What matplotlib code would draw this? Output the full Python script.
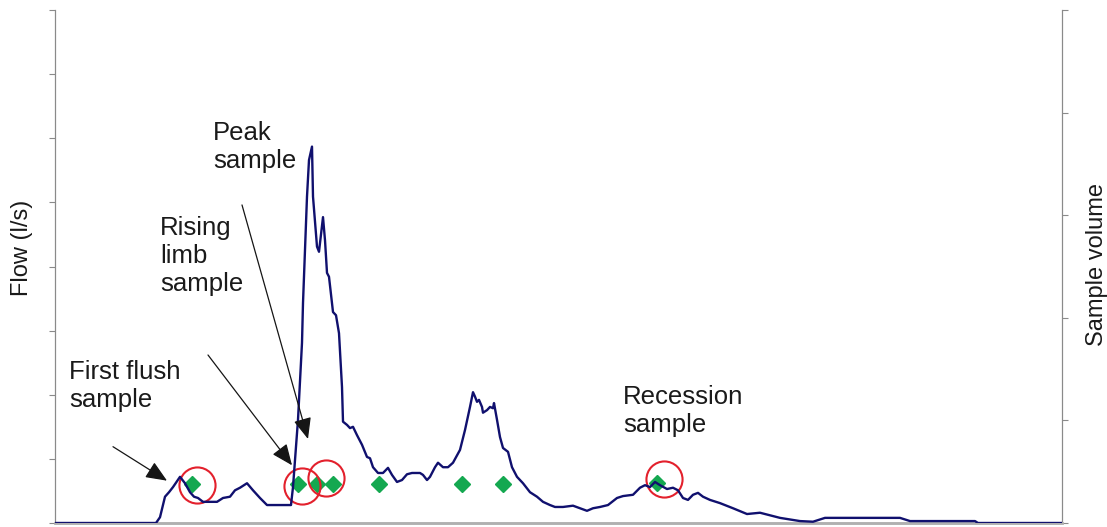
import numpy as np
import matplotlib
matplotlib.use("Agg")
import matplotlib.pyplot as plt

plt.rcParams["font.family"] = ["Liberation Sans", "DejaVu Sans"]

# hydrograph: time (arbitrary units) and flow (l/s, axis units)
time = [0, 101, 105, 110, 114, 118, 125, 130, 135, 139, 143, 148, 162, 168, 175,
        180, 185, 192, 198, 205, 212, 236, 238, 243, 247, 248, 252, 254, 257, 258,
        262, 264, 268, 270, 272, 274, 278, 281, 284, 287, 288, 292, 295, 298, 302,
        307, 312, 315, 318, 323, 328, 333, 337, 342, 347, 352, 357, 365, 368, 372,
        375, 380, 383, 388, 393, 398, 405, 410, 415, 418, 420, 422, 424, 427, 428,
        432, 435, 438, 439, 442, 445, 448, 453, 457, 462, 468, 475, 482, 488, 495,
        500, 508, 518, 525, 532, 538, 545, 553, 562, 568, 578, 585, 590, 595, 600,
        605, 612, 618, 623, 628, 633, 638, 643, 648, 655, 665, 678, 692, 705, 715,
        725, 745, 758, 770, 845, 855, 875, 920, 923, 1007]
flow = [0.00, 0.00, 0.09, 0.41, 0.48, 0.56, 0.72, 0.62, 0.48, 0.41, 0.39, 0.33, 0.33, 0.39, 0.41,
        0.51, 0.55, 0.62, 0.51, 0.39, 0.28, 0.28, 0.56, 1.61, 2.81, 3.43, 5.09, 5.66, 5.87, 5.09,
        4.31, 4.23, 4.77, 4.41, 3.90, 3.84, 3.29, 3.24, 2.96, 2.12, 1.58, 1.53, 1.48, 1.50, 1.37,
        1.22, 1.03, 1.01, 0.87, 0.78, 0.78, 0.86, 0.75, 0.64, 0.67, 0.76, 0.78, 0.78, 0.75, 0.67,
        0.72, 0.87, 0.94, 0.87, 0.87, 0.94, 1.14, 1.45, 1.81, 2.04, 1.97, 1.89, 1.92, 1.81, 1.72,
        1.76, 1.81, 1.79, 1.87, 1.61, 1.34, 1.17, 1.11, 0.87, 0.72, 0.62, 0.48, 0.41, 0.33, 0.28,
        0.25, 0.25, 0.27, 0.23, 0.19, 0.23, 0.25, 0.28, 0.39, 0.42, 0.44, 0.55, 0.59, 0.56, 0.64,
        0.59, 0.53, 0.55, 0.51, 0.39, 0.36, 0.44, 0.47, 0.41, 0.36, 0.31, 0.23, 0.14, 0.16, 0.12,
        0.08, 0.03, 0.02, 0.08, 0.08, 0.03, 0.03, 0.03, 0.00, 0.00]

# samples taken (right axis: sample volume)
sample_time = [137, 243, 262, 278, 324, 407, 448, 602]
sample_vol = [0.38, 0.38, 0.38, 0.38, 0.38, 0.38, 0.38, 0.39]

# highlighted samples
circle_time = [142, 247, 271, 609]
circle_vol = [0.37, 0.36, 0.44, 0.43]

W, H = 1107, 527
fig = plt.figure(figsize=(W / 100, H / 100), dpi=100)
ax = fig.add_axes([55 / W, 4 / H, 1007 / W, 513 / H])
ax2 = ax.twinx()

ax.plot(time, flow, color="#10106e", lw=1.7, zorder=3)
ax.set_xlim(0, 1007)
ax.set_ylim(0, 8)
ax.set_yticks(np.arange(0, 9, 1))
ax.set_yticklabels([])
ax.set_xticks([])

ax2.plot(sample_time, sample_vol, ls="none", marker="D", ms=8, color="#14a850", zorder=2)
ax2.plot(circle_time, circle_vol, ls="none", marker="o", ms=26, mfc="none",
         mec="#e3202c", mew=1.5, zorder=4)
ax2.set_ylim(0, 5)
ax2.set_yticks(np.arange(0, 6, 1))
ax2.set_yticklabels([])
ax2.set_xlim(0, 1007)

ax.set_zorder(ax2.get_zorder() + 1)
ax.patch.set_visible(False)

for a in (ax, ax2):
    a.spines["top"].set_visible(False)
    a.spines["left"].set_color("#8a8a8a")
    a.spines["right"].set_color("#8a8a8a")
    a.spines["left"].set_linewidth(0.8)
    a.spines["right"].set_linewidth(0.8)
    a.spines["bottom"].set_color("#b0b0b0")
    a.spines["bottom"].set_linewidth(1.8)
    a.tick_params(axis="y", length=4.5, width=0.8, color="#8a8a8a", direction="out")

# labels and annotations
txt = dict(fontsize=18.5, color="#1a1a1a", ha="left", va="baseline")
ax.text(14, 1.81, "First flush\nsample", **txt)
ax.text(105, 3.62, "Rising\nlimb\nsample", **txt)
ax.text(158, 5.54, "Peak\nsample", **txt)
ax.text(568, 1.42, "Recession\nsample", **txt)

arrow = dict(arrowstyle="-|>,head_length=1.3,head_width=0.55", mutation_scale=10,
             color="#151515", lw=0.9, shrinkA=0, shrinkB=0)
ax.annotate("", xy=(112, 0.66), xytext=(58, 1.19), arrowprops=arrow)
ax.annotate("", xy=(237, 0.90), xytext=(153, 2.62), arrowprops=arrow)
ax.annotate("", xy=(253, 1.31), xytext=(187, 4.96), arrowprops=arrow)

fig.text(22 / W, 1 - 248 / H, "Flow (l/s)", rotation=90, ha="center", va="center",
         fontsize=17, color="#1a1a1a")
fig.text(1097 / W, 1 - 265 / H, "Sample volume", rotation=90, ha="center", va="center",
         fontsize=17, color="#1a1a1a")

fig.savefig("out.png", dpi=100)
